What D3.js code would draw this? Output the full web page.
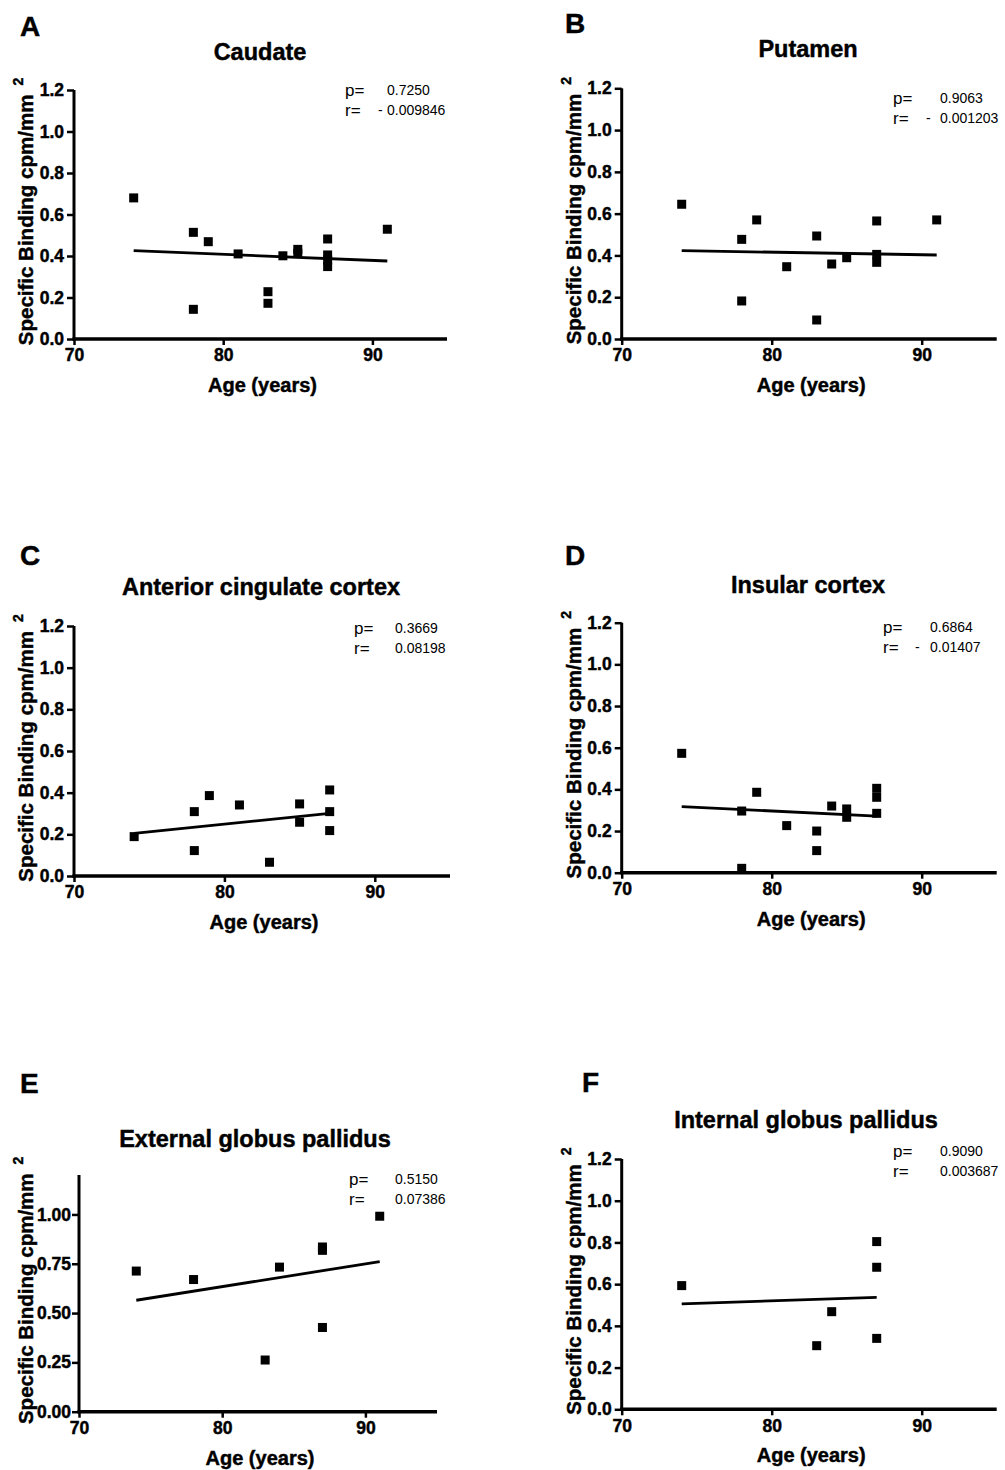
<!DOCTYPE html>
<html>
<head>
<meta charset="utf-8">
<script src="https://cdn.jsdelivr.net/npm/d3@7"></script>
<style>
  html, body { margin: 0; padding: 0; background: #fff; }
  svg { display: block; }
  text { font-family: Arial, "Liberation Sans", sans-serif; fill: #000; }
  .heavy { stroke: #000; stroke-width: 0.45px; }
</style>
</head>
<body>
<svg id="chart" width="1005" height="1470"></svg>
<script>
// ---------- DATA ----------
const panelLetters = ["A", "B", "C", "D", "E", "F"];
const panelTitles = ["Caudate", "Putamen", "Anterior cingulate cortex", "Insular cortex",
                     "External globus pallidus", "Internal globus pallidus"];
const xTickValues = [70, 80, 90];
const yTickValues = [0, 0.2, 0.4, 0.6, 0.8, 1.0, 1.2];
const yTickValuesE = [0, 0.25, 0.5, 0.75, 1.0];
const xLabel = "Age (years)";
const yLabel = "Specific Binding cpm/mm";

const ageA = [74, 78, 78, 79, 81, 83, 83, 84, 85, 85, 87, 87, 87, 87, 91];
const bindA = [0.68, 0.514, 0.143, 0.469, 0.41, 0.228, 0.172, 0.401, 0.432, 0.413, 0.482, 0.405, 0.38, 0.349, 0.529];
const fitAgeA = [74, 91];
const fitA = [0.426, 0.376];

const ageB = [74, 78, 78, 79, 81, 83, 83, 84, 85, 87, 87, 87, 91];
const bindB = [0.645, 0.477, 0.182, 0.570, 0.346, 0.493, 0.091, 0.359, 0.389, 0.565, 0.405, 0.367, 0.570];
const fitAgeB = [74, 91];
const fitB = [0.423, 0.402];

const ageC = [74, 78, 78, 79, 81, 83, 85, 85, 87, 87, 87];
const bindC = [0.189, 0.309, 0.122, 0.386, 0.341, 0.066, 0.346, 0.258, 0.413, 0.309, 0.218];
const fitAgeC = [74, 87];
const fitC = [0.205, 0.301];

const ageD = [74, 78, 78, 79, 81, 83, 83, 84, 85, 85, 87, 87, 87];
const bindD = [0.573, 0.296, 0.021, 0.386, 0.226, 0.200, 0.106, 0.320, 0.306, 0.266, 0.405, 0.362, 0.285];
const fitAgeD = [74, 87];
const fitD = [0.317, 0.272];

const ageE = [74, 78, 83, 84, 87, 87, 87, 91];
const bindE = [0.713, 0.670, 0.262, 0.733, 0.835, 0.818, 0.427, 0.991];
const fitAgeE = [74, 91];
const fitE = [0.565, 0.761];

const ageF = [74, 83, 84, 87, 87, 87];
const bindF = [0.593, 0.305, 0.468, 0.804, 0.681, 0.340];
const fitAgeF = [74, 87];
const fitF = [0.505, 0.537];

const pValues = ["0.7250", "0.9063", "0.3669", "0.6864", "0.5150", "0.9090"];
const rSigns = ["-", "-", "", "-", "", ""];
const rValues = ["0.009846", "0.001203", "0.08198", "0.01407", "0.07386", "0.003687"];

const xDomain = [70, 95];
const yDomain = [0, 1.2];

// ---------- LAYOUT (positions only) ----------
const layout = [
  { x0: 74,    x1: 447,   y0: 339,    yT: 90,    letterX: 20,  letterY: 36,   titleX: 260, titleY: 60,   statX: 345, statY: 96,   valX: 387, minusX: 378, ylabOff: 41, pad: 3 },
  { x0: 621.7, x1: 996.7, y0: 339,    yT: 88.3,  letterX: 565, letterY: 33,   titleX: 808, titleY: 57,   statX: 893, statY: 104,  valX: 940, minusX: 926, ylabOff: 41, pad: 3 },
  { x0: 74,    x1: 450,   y0: 876,    yT: 626,   letterX: 20,  letterY: 565,  titleX: 261, titleY: 595,  statX: 354, statY: 634,  valX: 395, minusX: 383, ylabOff: 41, pad: 3 },
  { x0: 621.7, x1: 996.7, y0: 872.7,  yT: 622.7, letterX: 565, letterY: 565,  titleX: 808, titleY: 593,  statX: 883, statY: 633,  valX: 930, minusX: 915, ylabOff: 41, pad: 3 },
  { x0: 79,    x1: 437,   y0: 1411.7, yT: 1175,  letterX: 20,  letterY: 1093, titleX: 255, titleY: 1147, statX: 349, statY: 1185, valX: 395, minusX: 383, ylabOff: 46, pad: 1 },
  { x0: 621.7, x1: 996.7, y0: 1409.3, yT: 1159,  letterX: 582, letterY: 1092, titleX: 806, titleY: 1128, statX: 893, statY: 1157, valX: 940, minusX: 926, ylabOff: 41, pad: 3 }
];

const ages = [ageA, ageB, ageC, ageD, ageE, ageF];
const binds = [bindA, bindB, bindC, bindD, bindE, bindF];
const fitAges = [fitAgeA, fitAgeB, fitAgeC, fitAgeD, fitAgeE, fitAgeF];
const fits = [fitA, fitB, fitC, fitD, fitE, fitF];

const svg = d3.select("#chart");
const SQ = 9;

layout.forEach((L, i) => {
  const g = svg.append("g");
  const x = d3.scaleLinear().domain(xDomain).range([L.x0, L.x1]);
  const y = d3.scaleLinear().domain(yDomain).range([L.y0, L.yT]);

  // Panel letter
  g.append("text").attr("class", "heavy").attr("x", L.letterX).attr("y", L.letterY)
    .attr("font-size", 28).attr("font-weight", "bold").text(panelLetters[i]);

  // Title
  g.append("text").attr("class", "heavy").attr("x", L.titleX).attr("y", L.titleY)
    .attr("text-anchor", "middle").attr("font-size", 23.5).attr("font-weight", "bold")
    .text(panelTitles[i]);

  // Y axis
  const isE = i === 4;
  const yAxis = d3.axisLeft(y)
    .tickValues(isE ? yTickValuesE : yTickValues)
    .tickFormat(isE ? d3.format(".2f") : d3.format(".1f"))
    .tickSize(7).tickSizeOuter(0).tickPadding(L.pad);
  const ya = g.append("g").attr("transform", `translate(${L.x0},0)`).call(yAxis);
  ya.select(".domain").attr("stroke", "#000").attr("stroke-width", 3)
    .attr("d", `M0,${L.y0 + 1.5}V${L.yT}`);
  ya.selectAll(".tick line").attr("stroke", "#000").attr("stroke-width", 2.5);
  ya.selectAll(".tick text").attr("class", "heavy").attr("font-size", 17.5).attr("font-weight", "bold")
    .attr("fill", "#000");

  // X axis
  const xAxis = d3.axisBottom(x).tickValues(xTickValues).tickFormat(d3.format("d"))
    .tickSize(6).tickSizeOuter(0).tickPadding(4);
  const xa = g.append("g").attr("transform", `translate(0,${L.y0})`).call(xAxis);
  xa.select(".domain").attr("stroke", "#000").attr("stroke-width", 3.5)
    .attr("d", `M${L.x0 - 1.5},0H${L.x1}`);
  xa.selectAll(".tick line").attr("stroke", "#000").attr("stroke-width", 2.5);
  xa.selectAll(".tick text").attr("class", "heavy").attr("font-size", 17.5).attr("font-weight", "bold")
    .attr("fill", "#000");

  // X label
  g.append("text").attr("class", "heavy").attr("x", (L.x0 + L.x1) / 2 + 2).attr("y", L.y0 + 53)
    .attr("text-anchor", "middle").attr("font-size", 20).attr("font-weight", "bold")
    .text(xLabel);

  // Y label
  const yl = g.append("text").attr("class", "heavy")
    .attr("transform", `translate(${L.x0 - L.ylabOff},${(L.y0 + L.yT) / 2 - 3}) rotate(-90)`)
    .attr("text-anchor", "middle").attr("font-size", 20.5).attr("font-weight", "bold");
  yl.append("tspan").text(yLabel);
  yl.append("tspan").attr("dx", 9).attr("dy", -10).attr("font-size", 14).text("2");

  // Points
  g.append("g").selectAll("rect").data(ages[i].map((a, k) => [a, binds[i][k]]))
    .join("rect")
    .attr("x", d => x(d[0]) - SQ / 2).attr("y", d => y(d[1]) - SQ / 2)
    .attr("width", SQ).attr("height", SQ).attr("fill", "#000");

  // Regression line
  const line = d3.line().x(d => x(d[0])).y(d => y(d[1]));
  g.append("path").datum(fitAges[i].map((a, k) => [a, fits[i][k]]))
    .attr("d", line).attr("stroke", "#000").attr("stroke-width", 2.8).attr("fill", "none");

  // Stats
  g.append("text").attr("x", L.statX).attr("y", L.statY).attr("font-size", 17).text("p=");
  g.append("text").attr("x", L.valX).attr("y", L.statY - 1).attr("font-size", 14).text(pValues[i]);
  g.append("text").attr("x", L.statX).attr("y", L.statY + 20).attr("font-size", 17).text("r=");
  if (rSigns[i]) {
    g.append("text").attr("x", L.minusX).attr("y", L.statY + 19).attr("font-size", 14).text(rSigns[i]);
  }
  g.append("text").attr("x", L.valX).attr("y", L.statY + 19).attr("font-size", 14).text(rValues[i]);
});
</script>
</body>
</html>
